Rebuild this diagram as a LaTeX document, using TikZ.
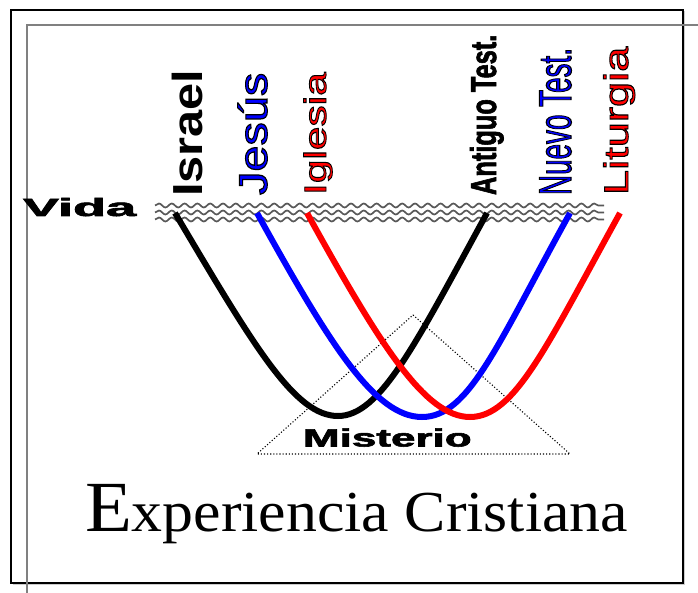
\documentclass[tikz,border=0pt]{standalone}
\usepackage{fontspec}
\usepackage{graphicx}
\setmainfont{Liberation Serif}
\newfontfamily\sansf{Liberation Sans}
\newfontfamily\sansol[FakeBold=2.6]{Liberation Sans}
\newfontfamily\sansbol[FakeBold=2.2,BoldFont={Liberation Sans Bold}]{Liberation Sans Bold}
\usetikzlibrary{decorations.pathmorphing}
\newcommand\outl[2]{{\color{#1}\special{pdf:literal direct 0 0 0 RG}#2}}
\tikzset{
  lab/.style={anchor=base west, inner sep=0pt, outer sep=0pt, rotate=90},
  flat/.style={anchor=base west, inner sep=0pt, outer sep=0pt},
  wave/.style={draw=black!65, line width=1.7pt, decorate, decoration={snake, amplitude=2pt, segment length=12.8pt}},
  arc/.style={line width=6pt}
}
\begin{document}
\begin{tikzpicture}[x=1pt,y=-1pt]
\useasboundingbox (0,0) rectangle (698,593);
% frames
\draw[gray!40, line width=1pt] (12.5,584.5) -- (684.5,584.5) -- (684.5,11.5);
\draw[black, line width=1.8pt] (11,10) rectangle (683,583);
\draw[gray, line width=1.5pt] (27,593) -- (27,25) -- (698,25);
% wavy band
\foreach \yy in {205.5,212.5,219.5}
  \draw[wave] (155,\yy) -- (604,\yy);
% triangle
\draw[line width=1.1pt, dash pattern=on 1.1pt off 2pt] (413,315) coordinate (apex) -- (570,454) coordinate (br) -- (257,454) coordinate (bl) -- cycle;
% curves
\coordinate (k1) at (175,213); \coordinate (k2) at (487,213);
\coordinate (b1) at (257,213); \coordinate (b2) at (570,213);
\coordinate (r1) at (307,213); \coordinate (r2) at (620,213);
\draw[arc, black] (k1) .. controls (255,348) and (295,416) .. (338,416) .. controls (380,416) and (415,345) .. (k2);
\draw[arc, blue] (b1) .. controls (330,345) and (375,417) .. (422,417) .. controls (469,417) and (497,345) .. (b2);
\draw[arc, red] (r1) .. controls (380,345) and (425,417) .. (470,417) .. controls (515,417) and (547,345) .. (r2);
% labels
\node[lab] (israel) at (202,197) {\sansf\bfseries\fontsize{42}{42}\selectfont\scalebox{1.16}[1]{Israel}};
\node[lab] (jesus) at (267,195) {\sansol\fontsize{40}{40}\selectfont\scalebox{1.17}[1]{\outl{blue}{Jesús}}};
\node[lab] (iglesia) at (326,195) {\sansol\fontsize{31}{31}\selectfont\scalebox{1.37}[1]{\outl{red}{Iglesia}}};
\node[lab] (antiguo) at (496,195) {\sansbol\fontsize{36}{36}\selectfont\scalebox{0.705}[1]{Antiguo Test.}};
\node[lab] (nuevo) at (571,195) {\sansol\fontsize{46}{46}\selectfont\scalebox{0.605}[1]{\outl{blue}{Nuevo Test.}}};
\node[lab] (liturgia) at (628,195) {\sansol\fontsize{34}{34}\selectfont\scalebox{1.33}[1]{\outl{red}{Liturgia}}};
\node[flat] (vida) at (23,216) {\sansbol\fontsize{25}{25}\selectfont\scalebox{2.16}[1]{Vida}};
\node[flat] (misterio) at (303,446.5) {\sansbol\fontsize{25}{25}\selectfont\scalebox{1.76}[1]{Misterio}};
\node[flat] (exp) at (85,531) {\scalebox{1.066}[1]{{\fontsize{72}{72}\selectfont E}{\fontsize{58}{58}\selectfont xperiencia Cristiana}}};
\end{tikzpicture}
\end{document}
